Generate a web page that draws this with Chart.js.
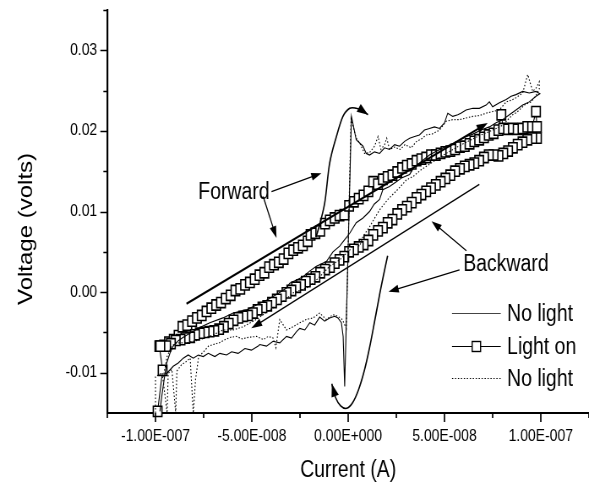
<!DOCTYPE html>
<html><head><meta charset="utf-8">
<script src="https://cdn.jsdelivr.net/npm/chart.js@4.4.1/dist/chart.umd.min.js"></script>
<style>
html,body{margin:0;padding:0;background:#fff;overflow:hidden;}
#wrap{width:589px;height:491px;overflow:hidden;position:relative;}
#c{position:absolute;left:0;top:0;transform:scaleX(0.845);transform-origin:0 0;}
</style>
</head><body><div id="wrap"><canvas id="c" width="697" height="491"></canvas></div>
<script>
// ---------- data (current in nA, voltage in mV) ----------
const xTickValues = [-1e-7, -5e-8, 0, 5e-8, 1e-7];
const xMinorValues = [-1.25e-7, -7.5e-8, -2.5e-8, 2.5e-8, 7.5e-8, 1.25e-7];
const yTickValues = [-0.01, 0, 0.01, 0.02, 0.03];
const yMinorValues = [-0.005, 0.005, 0.015, 0.025, 0.035];

const noLightSolid = [
 [-97.7,-14.8],[-96.8,-13.0],[-95.0,-10.0],[-94.2,-10.1],[-90.8,-9.2],[-88.2,-8.8],[-85.6,-8.2],[-83.0,-7.8],[-80.4,-8.2],[-77.8,-7.8],
 [-75.2,-8.0],[-72.6,-7.6],[-69.2,-8.0],[-66.6,-7.6],[-63.1,-7.8],[-60.5,-7.4],[-57.1,-7.6],[-53.6,-7.0],[-50.2,-7.2],[-46.7,-6.7],
 [-45.9,-6.5],[-42.4,-6.7],[-39.0,-6.1],[-35.5,-6.3],[-32.0,-5.5],[-29.4,-5.7],[-26.8,-4.9],[-25.1,-4.5],[-22.5,-4.7],[-19.9,-3.8],
 [-17.4,-4.1],[-14.8,-3.1],[-12.2,-3.6],[-9.6,-3.2],[-7.0,-3.0],[-5.3,-3.2],[-3.5,-3.8],[-2.6,-5.5],[-1.8,-11.7],[1.7,21.8],
 [4.2,18.9],[7.7,18.1],[9.4,17.2],[11.1,17.0],[13.7,17.4],[16.3,17.2],[18.9,17.9],[21.5,17.7],[24.1,18.3],[26.7,18.1],
 [29.3,18.7],[31.9,19.1],[34.5,19.3],[37.0,19.5],[39.6,20.1],[42.2,20.3],[44.8,20.5],[47.4,20.3],[50.0,21.0],[51.7,22.2],
 [54.3,21.8],[56.9,22.0],[58.5,22.2],[61.2,22.6],[64.7,22.8],[68.1,22.8],[71.6,23.2],[73.3,23.6],[75.0,23.0],[78.5,23.5],
 [82.0,23.9],[84.6,24.3],[87.1,24.5],[90.6,24.9],[94.0,24.7],[97.5,24.9],[99.5,24.6],
 [97.5,24.3],[94.0,23.6],[90.6,23.2],[87.1,22.6],[83.7,22.0],[80.2,21.4],[76.8,21.0],[73.3,20.5],[69.0,20.1],[64.7,19.6],
 [60.5,19.2],[56.0,18.6],[51.0,18.1],[46.0,17.5],[42.2,17.0],[38.0,16.2],[34.0,15.4],[31.9,14.6],[28.0,14.2],[25.0,13.7],
 [21.5,13.1],[18.0,12.7],[16.3,11.5],[13.5,10.9],[11.1,10.0],[7.7,9.2],[4.2,8.6],[0.8,7.3],[-2.5,6.3],[-4.4,5.7],
 [-7.9,5.0],[-11.3,3.8],[-16.5,3.2],[-20.0,2.6],[-23.4,1.9],[-26.8,1.5],[-30.3,1.1],[-32.0,0.5],[-37.2,-0.3],[-42.4,-1.0],
 [-47.6,-1.6],[-52.7,-2.2],[-59.7,-2.6],[-65.0,-3.2],[-71.8,-3.8],[-77.0,-4.4],[-82.1,-5.1],[-85.0,-5.5],[-88.0,-6.0],[-90.8,-6.7],
 [-92.5,-7.6],[-94.2,-8.8],[-95.0,-10.0],[-96.8,-13.0],[-97.7,-14.8]
];

const lightOnForward = [
 [-98.9,-14.8],[-96.3,-9.7],
 [-98.0,-6.7],[-95.5,-6.6],[-93.0,-6.2],[-90.5,-5.9],[-88.0,-5.4],[-86.0,-4.3],[-83.5,-4.1],[-81.0,-3.6],[-78.5,-3.2],[-76.0,-2.9],
 [-73.5,-2.4],[-71.0,-2.0],[-68.5,-1.6],[-66.0,-1.3],[-63.5,-0.8],[-61.0,-0.4],[-58.5,0.2],[-56.0,0.4],[-53.5,0.9],[-51.0,1.2],
 [-48.5,1.6],[-46.0,2.1],[-43.5,2.4],[-41.0,3.1],[-38.5,3.4],[-36.0,3.7],[-33.5,4.1],[-31.0,4.8],[-28.5,5.2],[-26.0,5.5],
 [-23.5,5.8],[-21.0,6.3],[-19.5,7.1],[-17.0,7.3],[-14.5,7.6],[-12.0,8.5],[-9.5,8.9],[-7.0,9.2],[-4.5,9.5],[-2.0,9.6],
 [0.5,10.7],[3.0,11.2],[5.5,11.6],[8.0,12.0],[10.5,12.5],[13.0,13.7],[15.5,13.4],[18.0,14.0],[20.5,14.3],[23.0,14.5],
 [25.5,14.9],[28.0,15.4],[30.5,15.7],[33.0,15.9],[35.5,16.3],[38.0,16.5],[40.5,16.7],[43.0,17.0],[45.5,17.0],[48.0,17.2],
 [50.5,17.4],[53.0,17.5],[55.5,17.7],[58.0,18.0],[60.5,18.1],[63.0,18.4],[65.5,18.7],[68.0,18.9],[70.5,19.2],[73.0,19.5],
 [75.5,19.7],[78.0,20.1],[79.5,22.0],[80.5,20.3],[83.0,20.2],[85.5,20.3],[88.0,20.2],[90.5,20.3],[93.0,20.5],[95.5,20.5],
 [97.5,22.4],[98.0,20.5]
];
const lightOnBackward = [
 [98.0,19.1],[95.5,19.1],[93.0,18.9],[90.5,18.6],[88.0,18.3],[85.5,17.9],[83.0,17.5],[80.5,17.2],[78.0,16.9],[75.5,17.0],
 [73.0,17.0],[70.5,16.7],[68.0,16.3],[65.5,16.0],[63.0,15.8],[60.5,15.6],[58.0,15.3],[55.5,15.0],[53.0,14.5],[50.5,14.1],
 [48.0,13.7],[45.5,13.3],[43.0,12.9],[40.5,12.5],[38.0,12.1],[35.5,11.7],[33.0,11.1],[30.5,10.6],[28.0,10.2],[25.5,9.7],
 [23.0,9.0],[20.5,8.6],[18.0,8.0],[15.5,7.6],[13.0,7.1],[10.5,6.4],[8.0,5.9],[5.5,5.6],[3.0,5.3],[0.5,5.0],
 [-2.0,4.4],[-4.5,4.0],[-7.0,3.6],[-9.5,3.1],[-12.0,2.8],[-14.5,2.4],[-17.0,1.9],[-19.5,1.6],[-22.0,1.3],[-24.5,0.9],
 [-27.0,0.6],[-29.5,0.2],[-32.0,-0.1],[-34.5,-0.5],[-37.0,-0.9],[-39.5,-1.3],[-42.0,-1.7],[-44.5,-1.9],[-47.0,-2.2],[-49.5,-2.6],
 [-52.0,-2.9],[-54.5,-3.0],[-57.0,-3.2],[-59.5,-3.5],[-62.0,-3.9],[-64.5,-4.3],[-67.0,-4.6],[-69.5,-4.8],[-72.0,-4.9],[-74.5,-5.0],
 [-77.0,-5.1],[-79.5,-5.3],[-82.0,-5.6],[-84.5,-5.7],[-87.0,-5.9],[-89.5,-6.0],[-92.0,-6.4],[-94.5,-6.7],[-97.5,-6.7]
];

const noLightDotted = [
 [-100.0,-15.0],[-100.0,-10.5],[-96.5,-10.0],[-94.0,-15.0],[-93.4,-10.1],[-91.5,-9.6],[-89.5,-15.0],[-88.9,-9.8],[-86.5,-9.0],[-84.0,-8.6],
 [-82.0,-8.2],[-80.4,-15.0],[-79.2,-10.8],[-77.6,-8.0],[-75.0,-7.4],[-72.5,-6.7],[-70.0,-6.5],[-67.0,-6.3],[-64.0,-5.9],[-61.0,-5.6],
 [-58.0,-5.5],[-55.0,-5.8],[-51.5,-5.6],[-47.5,-5.5],[-44.0,-5.9],[-41.5,-5.5],[-39.0,-5.7],[-37.5,-6.9],[-35.5,-3.4],[-32.0,-4.7],
 [-28.6,-4.3],[-25.1,-3.8],[-21.7,-3.4],[-18.2,-3.2],[-14.8,-2.6],[-11.3,-3.4],[-7.9,-2.8],[-5.3,-3.0],[-3.0,-3.4],[-1.0,-4.5],
 [1.5,21.5],[4.2,19.1],[6.0,18.5],[8.5,17.2],[11.1,17.3],[13.7,18.1],[15.5,19.3],[17.0,17.7],[18.9,18.3],[20.0,19.1],
 [21.5,17.7],[24.1,18.0],[27.0,17.7],[29.5,18.3],[32.7,17.9],[35.5,18.7],[38.0,19.0],[40.5,19.5],[43.5,19.6],[47.4,20.1],
 [50.9,21.2],[54.3,21.4],[57.8,21.4],[61.2,21.6],[64.7,21.8],[68.1,21.9],[71.6,22.2],[75.0,22.4],[78.5,22.6],[82.0,23.6],
 [84.6,23.8],[87.1,24.1],[90.6,24.7],[93.2,27.0],[95.8,24.9],[97.5,25.3],[99.2,26.1],
 [99.2,25.2],[97.5,24.4],[95.0,23.6],[92.0,23.3],[90.6,23.0],[87.5,22.3],[85.4,22.0],[82.5,21.3],[80.2,20.7],[76.8,20.3],
 [73.0,19.9],[68.0,19.4],[63.0,18.8],[58.0,18.2],[53.0,17.5],[48.0,16.8],[43.0,16.0],[38.0,15.2],[34.0,14.4],[30.2,13.9],
 [26.0,12.8],[20.6,11.5],[16.3,10.2],[11.1,8.1],[7.7,6.9],[6.0,5.7],[3.0,6.0],[0.8,5.2],[-4.4,4.0],[-9.6,3.2],
 [-14.8,1.9],[-20.0,0.7],[-24.0,0.3],[-28.6,-0.1],[-33.8,-1.2],[-40.7,-2.2],[-47.0,-3.3],[-54.5,-4.3],[-59.7,-4.7],[-64.9,-4.7],
 [-70.0,-5.3],[-76.9,-5.9],[-83.8,-6.3],[-89.0,-6.3],[-91.6,-6.7],[-94.0,-8.0],[-95.9,-10.5]
];

// annotation geometry (nA, mV)
const forwardArrow = [[-83.9,-1.45],[72.4,20.97]];
const forwardPointers = [[[-39.8,12.48],[-13.9,14.76]],[[-44.1,11.86],[-37.2,6.70]]];
const backwardArrow = [[68.1,13.37],[-50.3,-4.49]];
const backwardPointers = [[[61.4,5.12],[43.3,8.78]],[[57.8,2.77],[21.0,0.04]]];
const jumpUpCurve = [[-16.8,6.8],[-15.6,7.7],[-12.2,11.0],[-9.6,16.0],[-6.1,19.3],[-2.7,21.8],[0.8,22.8],[4.2,22.8],[7.5,22.5],[10.3,22.0]];
const jumpDownCurve = [[20.5,4.51],[18.4,2.15],[16.3,-0.33],[13.7,-3.68],[11.1,-6.91],[8.5,-9.64],[5.4,-12.12],[2.3,-13.73],[-0.8,-14.42],[-3.9,-14.11],[-6.5,-13.11],[-8.5,-11.37]];
const textLabels = [["Forward",-59.3,12.3],["Backward",81.9,3.45]];
const legendLabels = ["No light","Light on","No light"];
const legendRowsMV = [-2.57,-6.66,-10.63];
const legendLineNA = [53.9,79.2];
const legendTextNA = 82.5;
const yTitle = "Voltage (volts)";
const xTitle = "Current (A)";

// ---------- chart ----------
const FAM = "'Liberation Sans',Arial,sans-serif";
const toPts = a => a.map(p => ({x: p[0]*1e-9, y: p[1]*1e-3}));
function fmtSci(v){
  if (Math.abs(v) < 1e-20) return '0.00E+000';
  const e = Math.floor(Math.log10(Math.abs(v)) + 1e-9);
  const m = v / Math.pow(10, e);
  return m.toFixed(2) + 'E' + (e < 0 ? '-' : '+') + String(Math.abs(e)).padStart(3,'0');
}
function spline(ctx, pts){
  ctx.beginPath(); ctx.moveTo(pts[0][0], pts[0][1]);
  for (let i = 0; i < pts.length-1; i++){
    const p0 = pts[i-1] || pts[i], p1 = pts[i], p2 = pts[i+1], p3 = pts[i+2] || pts[i+1];
    ctx.bezierCurveTo(p1[0]+(p2[0]-p0[0])/6, p1[1]+(p2[1]-p0[1])/6, p2[0]-(p3[0]-p1[0])/6, p2[1]-(p3[1]-p1[1])/6, p2[0], p2[1]);
  }
  ctx.stroke();
}
function head(ctx, from, tip, len, hw){
  let dx = tip[0]-from[0], dy = tip[1]-from[1]; const d = Math.hypot(dx,dy); dx/=d; dy/=d;
  const bx = tip[0]-dx*len, by = tip[1]-dy*len;
  ctx.beginPath(); ctx.moveTo(tip[0],tip[1]); ctx.lineTo(bx - dy*hw, by + dx*hw); ctx.lineTo(bx + dy*hw, by - dx*hw); ctx.closePath(); ctx.fill();
}
function arrow(ctx, a, b, lw, len, hw){
  ctx.lineWidth = lw; ctx.beginPath(); ctx.moveTo(a[0],a[1]);
  let dx=b[0]-a[0], dy=b[1]-a[1]; const d=Math.hypot(dx,dy);
  ctx.lineTo(b[0]-dx/d*len*0.6, b[1]-dy/d*len*0.6); ctx.stroke();
  head(ctx, a, b, len, hw);
}

const annot = {
  id: 'annot',
  afterDraw(chart){
    const {ctx, scales:{x, y}} = chart;
    const P = p => [x.getPixelForValue(p[0]*1e-9), y.getPixelForValue(p[1]*1e-3)];
    ctx.save();
    ctx.strokeStyle = '#000'; ctx.fillStyle = '#000'; ctx.lineCap = 'butt';
    // tick marks (major + minor)
    const ax = y.right, ay = x.top;
    ctx.beginPath(); ctx.lineWidth = 1.7;
    xTickValues.forEach(v => { const px = x.getPixelForValue(v); ctx.moveTo(px, ay); ctx.lineTo(px, ay+9); });
    xMinorValues.forEach(v => { const px = x.getPixelForValue(v); ctx.moveTo(px, ay); ctx.lineTo(px, ay+5); });
    ctx.stroke();
    ctx.beginPath(); ctx.lineWidth = 1.4;
    yTickValues.forEach(v => { const py = Math.round(y.getPixelForValue(v))+0.5; ctx.moveTo(ax, py); ctx.lineTo(ax-8.3, py); });
    yMinorValues.forEach(v => { const py = Math.round(y.getPixelForValue(v))+0.5; ctx.moveTo(ax, py); ctx.lineTo(ax-4.7, py); });
    ctx.stroke();
    // straight arrows
    arrow(ctx, P(forwardArrow[0]), P(forwardArrow[1]), 2.1, 13, 4.5);
    forwardPointers.forEach(s => arrow(ctx, P(s[0]), P(s[1]), 1.3, 12, 4));
    arrow(ctx, P(backwardArrow[0]), P(backwardArrow[1]), 1.4, 13, 4);
    backwardPointers.forEach(s => arrow(ctx, P(s[0]), P(s[1]), 1.3, 12, 4));
    // curved arrows
    ctx.lineWidth = 1.6;
    const up = jumpUpCurve.map(P); spline(ctx, up);
    head(ctx, up[up.length-2], up[up.length-1], 13, 4.5);
    const dn = jumpDownCurve.map(P); spline(ctx, dn);
    head(ctx, dn[dn.length-2], dn[dn.length-1], 13, 4.5);
    // labels
    ctx.font = "23px " + FAM; ctx.textAlign = 'center'; ctx.textBaseline = 'middle';
    textLabels.forEach(t => { const p = P([t[1], t[2]]); ctx.fillText(t[0], p[0], p[1]); });
    // y axis title
    ctx.save(); ctx.font = "24px " + FAM; ctx.translate(31, 229); ctx.rotate(-Math.PI/2);
    ctx.fillText(yTitle, 0, 0); ctx.restore();
    // legend
    const lx0 = x.getPixelForValue(legendLineNA[0]*1e-9), lx1 = x.getPixelForValue(legendLineNA[1]*1e-9);
    const tx = x.getPixelForValue(legendTextNA*1e-9);
    const dsets = chart.data.datasets;
    ctx.textAlign = 'left'; ctx.font = "23px " + FAM;
    legendRowsMV.forEach((mv, i) => {
      const py = Math.round(y.getPixelForValue(mv*1e-3)) + 0.5;
      const ds = dsets[i];
      ctx.lineWidth = ds.borderWidth; ctx.setLineDash(ds.borderDash || []);
      ctx.strokeStyle = i === 0 ? '#444' : '#000';
      ctx.beginPath(); ctx.moveTo(lx0, py); ctx.lineTo(lx1, py); ctx.stroke();
      ctx.setLineDash([]); ctx.strokeStyle = '#000';
      if (i === 1){
        const cx = (lx0+lx1)/2; ctx.fillStyle = '#fff'; ctx.fillRect(cx-5, py-5, 10, 10);
        ctx.lineWidth = 1.4; ctx.strokeRect(cx-5, py-5, 10, 10); ctx.fillStyle = '#000';
      }
      ctx.fillText(legendLabels[i], tx, py + 1);
    });
    ctx.restore();
  }
};

new Chart(document.getElementById('c'), {
  type: 'scatter',
  data: { datasets: [
    { label: 'No light', data: toPts(noLightSolid), showLine: true, borderColor: '#000', borderWidth: 1.1, pointRadius: 0, order: 0 },
    { label: 'Light on', data: toPts(lightOnForward.concat(lightOnBackward)), showLine: true, borderColor: '#000', borderWidth: 1.1,
      pointStyle: 'rect', pointRadius: 7.2, pointBorderWidth: 1.6, pointBorderColor: '#000', pointBackgroundColor: '#fff', order: 2, clip: false },
    { label: 'No light', data: toPts(noLightDotted), showLine: true, borderColor: '#000', borderWidth: 1.1, borderDash: [1.5, 2], pointRadius: 0, order: 1 }
  ]},
  options: {
    responsive: false, animation: false, devicePixelRatio: 1,
    layout: { autoPadding: false, padding: { top: 10, right: 0, left: 0, bottom: 0 } },
    plugins: { legend: { display: false }, tooltip: { enabled: false } },
    scales: {
      x: {
        type: 'linear', min: -1.25e-7, max: 1.25e-7,
        afterBuildTicks: s => { s.ticks = xTickValues.map(v => ({value: v})); },
        afterFit: s => { s.height = 78; s.paddingLeft = 0; s.paddingRight = 0; },
        grid: { display: false, drawTicks: false },
        border: { display: true, color: '#000', width: 1.9 },
        ticks: { callback: v => fmtSci(v), color: '#000', font: { family: FAM, size: 16.5 }, padding: 14, maxRotation: 0, autoSkip: false },
        title: { display: true, text: xTitle, color: '#000', font: { family: FAM, size: 23 }, padding: { top: 0, bottom: 7 } }
      },
      y: {
        type: 'linear', min: -0.015, max: 0.035,
        afterBuildTicks: s => { s.ticks = yTickValues.map(v => ({value: v})); },
        afterFit: s => { s.width = 127; s.paddingTop = 0; s.paddingBottom = 0; },
        grid: { display: false, drawTicks: false },
        border: { display: true, color: '#000', width: 2.2 },
        ticks: { callback: v => v.toFixed(2), color: '#000', font: { family: FAM, size: 16.5 }, padding: 12 },
        title: { display: false }
      }
    }
  },
  plugins: [annot]
});
</script></body></html>
